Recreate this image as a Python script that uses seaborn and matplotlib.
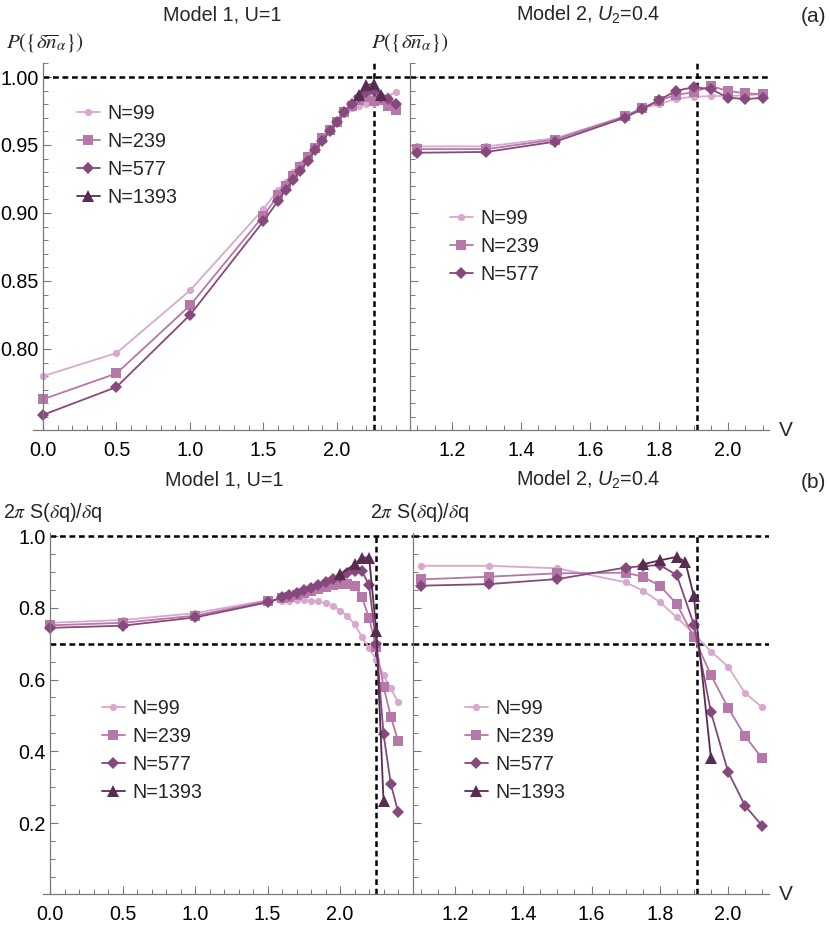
import numpy as np
import pandas as pd
import matplotlib
matplotlib.use("Agg")
import matplotlib.pyplot as plt
import seaborn as sns
from matplotlib.ticker import MultipleLocator, FixedLocator, FormatStrFormatter, NullFormatter

sns.set_theme(style="white")
plt.rcParams['font.family'] = ['Liberation Sans', 'DejaVu Sans']
plt.rcParams['mathtext.fontset'] = 'custom'
plt.rcParams['mathtext.it'] = 'Liberation Sans:italic'
plt.rcParams['mathtext.rm'] = 'Liberation Sans'
plt.rcParams['mathtext.bf'] = 'Liberation Sans:bold'

# ---------------- data ----------------
labels = ["N=99", "N=239", "N=577", "N=1393"]
colors = ["#d9a8cf", "#b677a9", "#87487c", "#582c52"]

v_m1 = [0.0, 0.5, 1.0, 1.5, 1.6, 1.65, 1.7, 1.75, 1.8, 1.85, 1.9, 1.95,
        2.0, 2.05, 2.1, 2.15, 2.2, 2.25, 2.3, 2.35, 2.4]
v_m1_1393_p = [2.15, 2.2, 2.25, 2.3]
v_m1_1393_s = [2.0, 2.1, 2.15, 2.2, 2.25, 2.3]

v_m2 = [1.1, 1.3, 1.5, 1.7, 1.75, 1.8, 1.85, 1.9, 1.95, 2.0, 2.05, 2.1]
v_m2_1393_s = [1.75, 1.8, 1.85, 1.875, 1.9, 1.95]

# (a) P({delta n}) Model 1
p_m1_99 = [0.780, 0.797, 0.843, 0.903, 0.917, 0.923, 0.930, 0.936, 0.943, 0.949,
           0.956, 0.962, 0.968, 0.973, 0.977, 0.979, 0.980, 0.981, 0.983, 0.986, 0.989]
p_m1_239 = [0.763, 0.782, 0.832, 0.898, 0.913, 0.920, 0.927, 0.934, 0.941, 0.948,
            0.955, 0.961, 0.967, 0.974, 0.979, 0.983, 0.985, 0.982, 0.983, 0.979, 0.976]
p_m1_577 = [0.7515, 0.772, 0.825, 0.894, 0.909, 0.917, 0.924, 0.931, 0.938, 0.946,
            0.953, 0.960, 0.967, 0.974, 0.980, 0.985, 0.989, 0.990, 0.985, 0.984, 0.980]
p_m1_1393 = [0.987, 0.994, 0.995, 0.987]

# (a) Model 2
p_m2_99 = [0.949, 0.949, 0.955, 0.971, 0.977, 0.980, 0.984, 0.9855, 0.986, 0.986, 0.9865, 0.9875]
p_m2_239 = [0.947, 0.947, 0.954, 0.971, 0.977, 0.9826, 0.987, 0.9887, 0.9934, 0.9897, 0.988, 0.9873]
p_m2_577 = [0.9443, 0.9449, 0.9525, 0.970, 0.9762, 0.983, 0.990, 0.9924, 0.9912, 0.9848, 0.9838, 0.9846]

# (b) 2pi S(dq)/dq Model 1
s_m1_99 = [0.758, 0.766, 0.785, 0.821, 0.820, 0.820, 0.821, 0.821, 0.820, 0.818,
           0.8125, 0.806, 0.792, 0.777, 0.754, 0.719, 0.688, 0.655, 0.612, 0.576, 0.537]
s_m1_239 = [0.751, 0.758, 0.778, 0.818, 0.826, 0.831, 0.836, 0.842, 0.848, 0.853,
            0.858, 0.863, 0.866, 0.867, 0.862, 0.831, 0.771, 0.690, 0.580, 0.496, 0.429]
s_m1_577 = [0.744, 0.750, 0.773, 0.815, 0.829, 0.8355, 0.842, 0.849, 0.856, 0.863,
            0.871, 0.879, 0.887, 0.896, 0.902, 0.903, 0.863, 0.699, 0.447, 0.309, 0.2315]
s_m1_1393 = [0.893, 0.921, 0.940, 0.940, 0.736, 0.260]

# (b) Model 2
s_m2_99 = [0.917, 0.917, 0.910, 0.871, 0.848, 0.816, 0.773, 0.728, 0.678, 0.636, 0.562, 0.523]
s_m2_239 = [0.879, 0.8866, 0.896, 0.8977, 0.8866, 0.8615, 0.8105, 0.7176, 0.6125, 0.5214, 0.4425, 0.380]
s_m2_577 = [0.8615, 0.866, 0.880, 0.912, 0.916, 0.919, 0.891, 0.753, 0.509, 0.343, 0.248, 0.1925]
s_m2_1393 = [0.921, 0.932, 0.942, 0.928, 0.832, 0.380]

Vc1 = 2.25
Vc2 = 1.91

markers = ["o", "s", "D", "^"]
msizes = [5.2, 7.0, 6.4, 8.4]

W, H = 830, 926
fig = plt.figure(figsize=(W / 100, H / 100), dpi=100)


def rect(x0, x1, ytop, ybot):
    return [x0 / W, 1 - ybot / H, (x1 - x0) / W, (ybot - ytop) / H]


ax_tl = fig.add_axes(rect(33, 410, 63, 430))
ax_tr = fig.add_axes(rect(410, 769, 63, 430))
ax_bl = fig.add_axes(rect(43, 413, 533, 894))
ax_br = fig.add_axes(rect(413, 769, 533, 894))

FS = 14.2
axcol = "#7a7a7a"


def draw(ax, series):
    for (xs, ys, i) in series:
        df = pd.DataFrame({"V": xs, "val": ys})
        sns.lineplot(data=df, x="V", y="val", ax=ax, color=colors[i], marker=markers[i],
                     markersize=msizes[i], markeredgewidth=0, linewidth=1.3,
                     label=labels[i], errorbar=None, sort=False)


draw(ax_tl, [(v_m1, p_m1_99, 0), (v_m1, p_m1_239, 1), (v_m1, p_m1_577, 2), (v_m1_1393_p, p_m1_1393, 3)])
draw(ax_tr, [(v_m2, p_m2_99, 0), (v_m2, p_m2_239, 1), (v_m2, p_m2_577, 2)])
draw(ax_bl, [(v_m1, s_m1_99, 0), (v_m1, s_m1_239, 1), (v_m1, s_m1_577, 2), (v_m1_1393_s, s_m1_1393, 3)])
draw(ax_br, [(v_m2, s_m2_99, 0), (v_m2, s_m2_239, 1), (v_m2, s_m2_577, 2), (v_m2_1393_s, s_m2_1393, 3)])

dash = dict(color="black", linewidth=1.8, linestyle=(0, (2.3, 1.5)), zorder=1)

# limits
ax_tl.set_xlim(-0.068, 2.4966)
ax_tr.set_xlim(1.0783, 2.1188)
ax_bl.set_xlim(-0.0483, 2.503)
ax_br.set_xlim(1.0769, 2.1201)
for a in (ax_tl, ax_tr):
    a.set_ylim(0.7404, 1.0103)
for a in (ax_bl, ax_br):
    a.set_ylim(0.0021, 1.0084)

# reference lines
ax_tl.hlines(1.0, 0, 2.4966, **dash)
ax_tr.axhline(1.0, **dash)
ax_tl.axvline(Vc1, **dash)
ax_tr.axvline(Vc2, **dash)
for yv in (1.0, 0.7):
    ax_bl.hlines(yv, 0, 2.503, **dash)
    ax_br.axhline(yv, **dash)
ax_bl.axvline(Vc1, **dash)
ax_br.axvline(Vc2, **dash)

for a in (ax_tl, ax_tr, ax_bl, ax_br):
    a.set_facecolor("none")
    a.set_xlabel("")
    a.set_ylabel("")
    for s in ("top", "right"):
        a.spines[s].set_visible(False)
    for s in ("left", "bottom"):
        a.spines[s].set_visible(True)
        a.spines[s].set_color(axcol)
        a.spines[s].set_linewidth(0.9)
    a.tick_params(which="major", direction="in", length=6, width=0.8, color=axcol,
                  labelsize=FS, labelcolor="black", left=True, bottom=True)
    a.tick_params(which="minor", direction="in", length=3.5, width=0.7, color=axcol,
                  left=True, bottom=True)
    a.tick_params(axis="y", pad=3)
    a.tick_params(axis="x", pad=8)

ax_tl.spines["left"].set_position(("data", 0))
ax_bl.spines["left"].set_position(("data", 0))

# ticks
for a in (ax_tl, ax_bl):
    a.xaxis.set_major_locator(FixedLocator([0.0, 0.5, 1.0, 1.5, 2.0]))
    a.xaxis.set_minor_locator(MultipleLocator(0.1))
    a.xaxis.set_major_formatter(FormatStrFormatter("%.1f"))
for a in (ax_tr, ax_br):
    a.xaxis.set_major_locator(FixedLocator([1.2, 1.4, 1.6, 1.8, 2.0]))
    a.xaxis.set_minor_locator(MultipleLocator(0.05))
    a.xaxis.set_major_formatter(FormatStrFormatter("%.1f"))
for a in (ax_tl, ax_tr):
    a.yaxis.set_major_locator(FixedLocator([0.80, 0.85, 0.90, 0.95, 1.00]))
    a.yaxis.set_minor_locator(MultipleLocator(0.01))
    a.yaxis.set_major_formatter(FormatStrFormatter("%.2f"))
for a in (ax_bl, ax_br):
    a.yaxis.set_major_locator(FixedLocator([0.2, 0.4, 0.6, 0.8, 1.0]))
    a.yaxis.set_minor_locator(MultipleLocator(0.05))
    a.yaxis.set_major_formatter(FormatStrFormatter("%.1f"))
for a in (ax_tr, ax_br):
    a.yaxis.set_major_formatter(NullFormatter())
    a.tick_params(axis="y", labelleft=False)

# legends
def leg(ax, x, y):
    h, l = ax.get_legend_handles_labels()
    ax.legend(h, l, loc="upper left", bbox_to_anchor=(x / W, 1 - y / H),
              bbox_transform=fig.transFigure, frameon=False, fontsize=FS,
              handlelength=1.15, handletextpad=0.4, labelspacing=0.45,
              borderpad=0, borderaxespad=0, numpoints=1)

leg(ax_tl, 77, 104)
leg(ax_tr, 450, 209)
leg(ax_bl, 102, 699)
leg(ax_br, 465, 699)

# texts
def ftext(x, y, s, size=FS, **kw):
    fig.text(x / W, 1 - y / H, s, fontsize=size, va="center", **kw)

ftext(222, 15, "Model 1, U=1", ha="center")
ftext(588, 15, "Model 2, $U_2$=0.4", ha="center")
ftext(813, 16, "(a)", ha="center", size=15)
ftext(224, 480, "Model 1, U=1", ha="center")
ftext(588, 480, "Model 2, $U_2$=0.4", ha="center")
ftext(813, 483, "(b)", ha="center", size=15)

plab = r"$P(\{\delta\overline{n}_\alpha\})$"
fig.text(6 / W, 1 - 43 / H, plab, fontsize=FS + 1, va="center", ha="left", math_fontfamily="stix")
fig.text(410 / W, 1 - 43 / H, plab, fontsize=FS + 1, va="center", ha="center", math_fontfamily="stix")
slab = r"2$\pi$ S($\delta$q)/$\delta$q"
fig.text(3 / W, 1 - 512 / H, slab, fontsize=FS, va="center", ha="left", math_fontfamily="stix")
fig.text(420 / W, 1 - 512 / H, slab, fontsize=FS, va="center", ha="center", math_fontfamily="stix")

ftext(786, 431, "V", ha="center", size=15)
ftext(786, 894, "V", ha="center", size=15)

fig.savefig("out.png", dpi=100)
